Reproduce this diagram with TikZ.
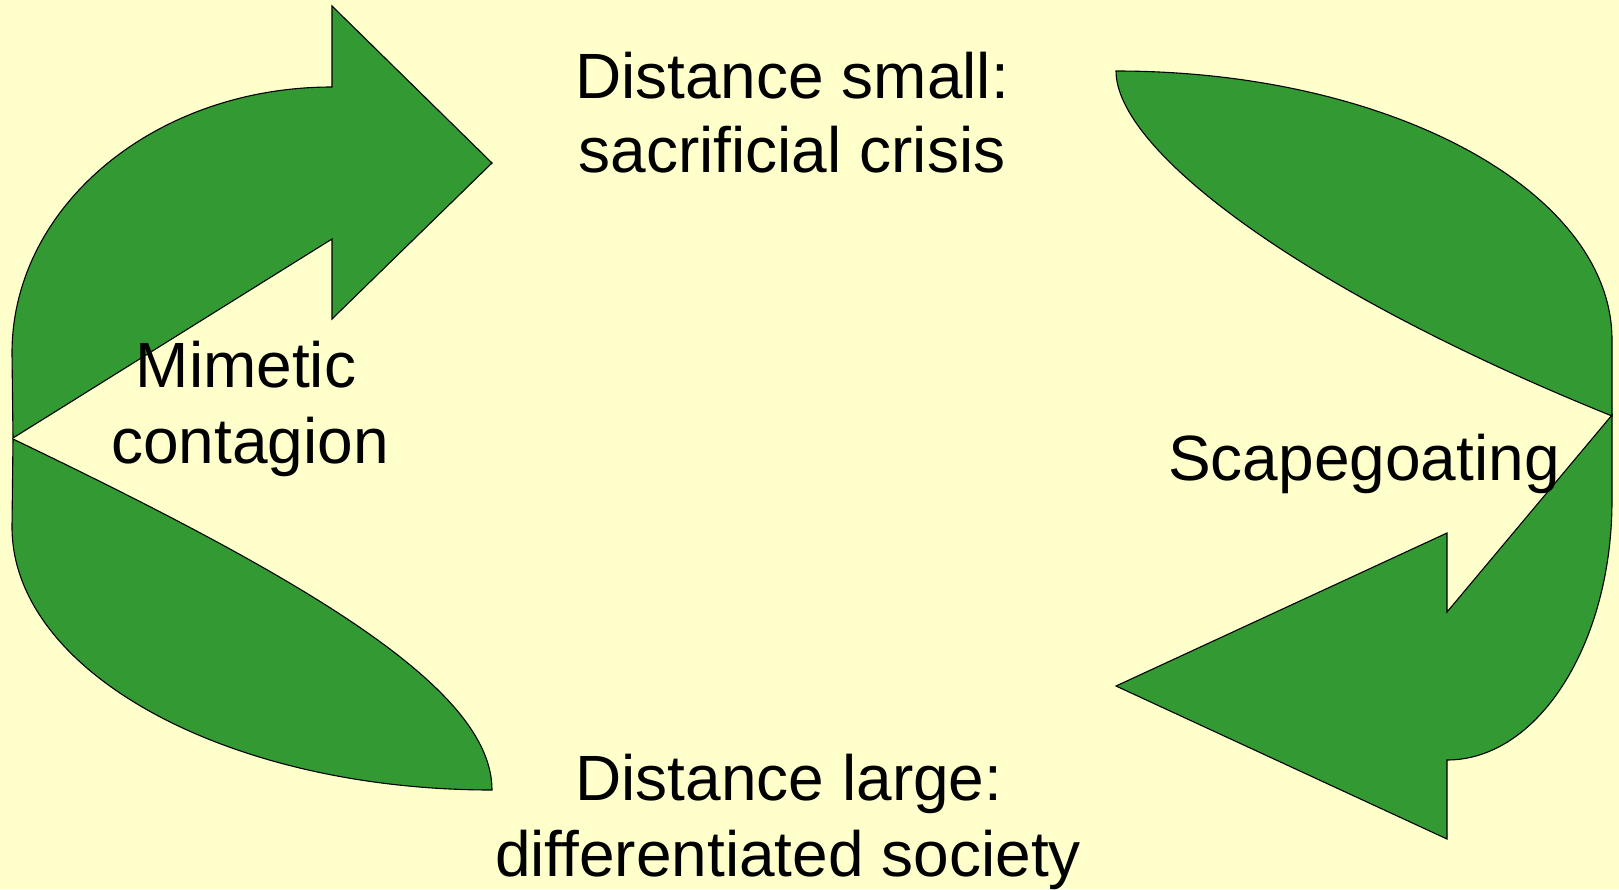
\documentclass[tikz,border=0pt]{standalone}
\usepackage{fontspec}
\setmainfont{Liberation Sans}
\definecolor{bgyellow}{HTML}{FFFFCC}
\definecolor{arrowgreen}{HTML}{339933}
\begin{document}
\begin{tikzpicture}[x=1pt,y=-1pt,
  arrowshape/.style={fill=arrowgreen,draw=black,line width=1.1pt,line join=miter},
  lbl/.style={anchor=base,inner sep=0pt,font=\fontsize{64}{75}\selectfont,text=black}]
\fill[bgyellow] (0,0) rectangle (1619,889);
\useasboundingbox (0,0) rectangle (1619,889);
% top-left arrow
\draw[arrowshape] (13,438) -- (12,353) .. controls (12,206) and (155,87) .. (332,87)
  -- (332,6) -- (492,163) -- (332,319) -- (332,239) -- cycle;
% bottom-left tail
\draw[arrowshape] (13,439) .. controls (313,583) and (492,690) .. (492,790)
  .. controls (227,790) and (12,672) .. (12,527) -- cycle;
% top-right tail
\draw[arrowshape] (1116,71) .. controls (1390,71) and (1612,191) .. (1612,340)
  -- (1612,416) .. controls (1300,290) and (1116,150) .. (1116,71) -- cycle;
% bottom-right arrow
\draw[arrowshape] (1612,415) -- (1447,612) -- (1447,533) -- (1116,686) -- (1447,839)
  -- (1447,760) .. controls (1538,760) and (1612,644) .. (1612,500) -- cycle;
% labels
\node[lbl] (ds1) at (792,98) {Distance small:};
\node[lbl] (ds2) at (792,172) {sacrificial crisis};
\node[lbl] (mc1) at (246,387) {Mimetic};
\node[lbl] (mc2) at (250,463) {contagion};
\node[lbl] (sg) at (1364,480) {Scapegoating};
\node[lbl] (dl1) at (789,800) {Distance large:};
\node[lbl] (dl2) at (788,876) {differentiated society};
\end{tikzpicture}
\end{document}
